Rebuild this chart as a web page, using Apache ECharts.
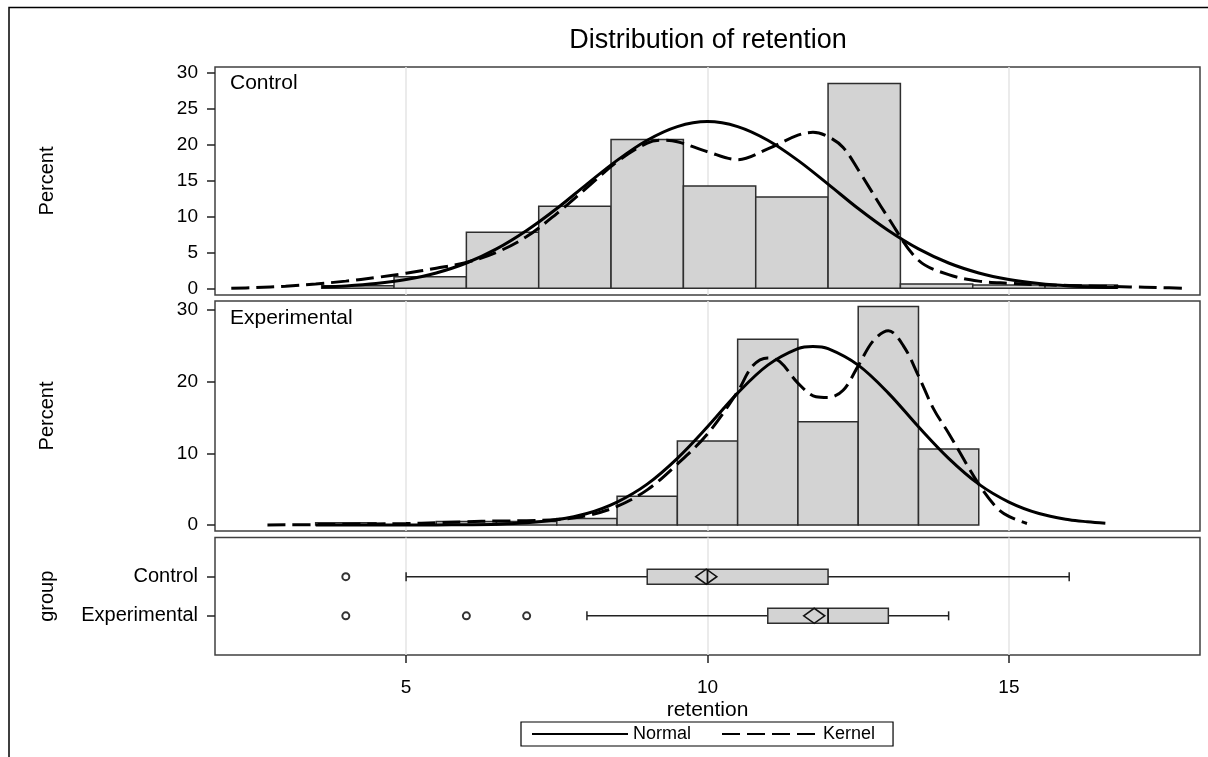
<!DOCTYPE html>
<html>
<head>
<meta charset="utf-8">
<script src="https://cdn.jsdelivr.net/npm/echarts@6/dist/echarts.min.js"></script>
<style>
  html, body { margin: 0; padding: 0; background: #fff; }
  #chart { width: 1208px; height: 757px; }
</style>
</head>
<body>
<div id="chart"></div>
<script>
// ---- data ----
const groups = ['Control', 'Experimental'];
const retentionTicks = [5, 10, 15];
const controlPercentTicks = [0, 5, 10, 15, 20, 25, 30];
const experimentalPercentTicks = [0, 10, 20, 30];

// histogram bins (edges) and percent of observations per bin
const controlBinEdges = [3.6, 4.8, 6.0, 7.2, 8.4, 9.6, 10.8, 12.0, 13.2, 14.4, 15.6, 16.8];
const controlPercent = [0.35, 1.6, 7.8, 11.4, 20.7, 14.25, 12.7, 28.5, 0.6, 0.45, 0.45];
const experimentalBinEdges = [3.5, 4.5, 5.5, 6.5, 7.5, 8.5, 9.5, 10.5, 11.5, 12.5, 13.5, 14.5];
const experimentalPercent = [0.3, 0, 0.5, 0.5, 0.9, 4.0, 11.7, 25.9, 14.4, 30.5, 10.6];

// fitted density curves, [retention, percent]
const controlNormal = [
  [3.6, 0.19], [4, 0.33], [4.5, 0.66], [5, 1.22], [5.5, 2.14], [6, 3.52], [6.5, 5.48],
  [7, 8.04], [7.5, 11.1], [8, 14.5], [8.5, 17.8], [9, 20.6], [9.5, 22.5], [10, 23.2],
  [10.5, 22.5], [11, 20.6], [11.5, 17.8], [12, 14.5], [12.5, 11.1], [13, 8.04],
  [13.5, 5.48], [14, 3.52], [14.5, 2.14], [15, 1.22], [15.5, 0.66], [16, 0.33],
  [16.5, 0.16], [16.8, 0.10]
];
const controlKernel = [
  [2.1, 0.0], [2.5, 0.1], [3.0, 0.3], [3.5, 0.6], [4.0, 1.0], [4.5, 1.5], [5.0, 2.1],
  [5.5, 2.8], [6.0, 3.6], [6.5, 5.0], [7.0, 7.2], [7.5, 10.4], [8.0, 14.0], [8.5, 17.6],
  [9.0, 20.2], [9.25, 20.6], [9.5, 20.4], [10.0, 19.0], [10.5, 17.9], [11.0, 19.4],
  [11.5, 21.3], [11.75, 21.7], [12.0, 21.1], [12.25, 19.6], [12.5, 16.5], [13.0, 9.8],
  [13.5, 3.9], [14.0, 1.9], [14.5, 1.0], [15.0, 0.7], [15.5, 0.5], [16.0, 0.4],
  [16.5, 0.3], [17.0, 0.2], [17.5, 0.1], [17.9, 0.0]
];
const experimentalNormal = [
  [3.5, 0.0], [4.5, 0.0], [5.5, 0.01], [6, 0.04], [6.5, 0.11], [7, 0.30], [7.5, 0.73],
  [8, 1.6], [8.5, 3.2], [9, 5.7], [9.5, 9.3], [10, 13.7], [10.5, 18.4], [11, 22.3],
  [11.5, 24.6], [11.75, 24.9], [12, 24.6], [12.5, 22.3], [13, 18.4], [13.5, 13.7],
  [14, 9.3], [14.5, 5.7], [15, 3.2], [15.5, 1.6], [16, 0.73], [16.3, 0.45], [16.6, 0.25]
];
const experimentalKernel = [
  [2.7, 0.0], [3.5, 0.05], [4.0, 0.1], [4.5, 0.15], [5.0, 0.2], [5.5, 0.3], [6.0, 0.45],
  [6.5, 0.55], [7.0, 0.6], [7.5, 0.75], [8.0, 1.3], [8.5, 2.6], [9.0, 4.9], [9.5, 8.5],
  [10.0, 12.7], [10.5, 18.6], [10.75, 22.2], [11.0, 23.3], [11.2, 22.8], [11.5, 19.8],
  [11.8, 17.9], [12.0, 17.8], [12.25, 18.8], [12.5, 22.2], [12.75, 25.7], [13.0, 27.1],
  [13.25, 25.0], [13.5, 20.8], [13.75, 16.2], [14.0, 12.8], [14.5, 5.7], [14.8, 2.4],
  [15.0, 1.2], [15.3, 0.2]
];

// box plot summary per group (same order as groups)
const boxLow = [5, 8];
const boxQ1 = [9, 11];
const boxMedian = [10, 12];
const boxQ3 = [12, 13];
const boxHigh = [16, 14];
const boxMean = [9.98, 11.77];
const outlierValues = [[4], [4, 6, 7]];

// ---- helpers ----
const FONT = 'Liberation Sans';
const INK = '#000';
const FRAME = '#404040';

function binData(edges, pct) {
  return pct.map((p, i) => [edges[i], edges[i + 1], p]);
}

function renderHistBar(params, api) {
  const p0 = api.coord([api.value(0), 0]);
  const p1 = api.coord([api.value(1), api.value(2)]);
  return {
    type: 'rect',
    shape: { x: p0[0], y: p1[1], width: p1[0] - p0[0], height: p0[1] - p1[1] },
    style: { fill: '#d3d3d3', stroke: '#2e2e2e', lineWidth: 1.5 }
  };
}

function renderBox(params, api) {
  const row = api.value(0);
  const y = api.coord([0, row])[1];
  const x = (v) => api.coord([v, row])[0];
  const lo = x(api.value(1)), q1 = x(api.value(2)), med = x(api.value(3));
  const q3 = x(api.value(4)), hi = x(api.value(5)), mean = x(api.value(6));
  const halfBox = 7.5, cap = 4.5, dW = 10.5, dH = 7.5;
  const thin = { stroke: '#222', lineWidth: 1.5 };
  return {
    type: 'group',
    children: [
      { type: 'line', shape: { x1: lo, y1: y, x2: q1, y2: y }, style: thin },
      { type: 'line', shape: { x1: q3, y1: y, x2: hi, y2: y }, style: thin },
      { type: 'line', shape: { x1: lo, y1: y - cap, x2: lo, y2: y + cap }, style: thin },
      { type: 'line', shape: { x1: hi, y1: y - cap, x2: hi, y2: y + cap }, style: thin },
      { type: 'rect', shape: { x: q1, y: y - halfBox, width: q3 - q1, height: 2 * halfBox },
        style: { fill: '#d3d3d3', stroke: '#2e2e2e', lineWidth: 1.5 } },
      { type: 'line', shape: { x1: med, y1: y - halfBox, x2: med, y2: y + halfBox },
        style: { stroke: '#111', lineWidth: 1.8 } },
      { type: 'polygon',
        shape: { points: [[mean - dW, y], [mean, y - dH], [mean + dW, y], [mean, y + dH]] },
        style: { fill: 'none', stroke: '#111', lineWidth: 1.6 } }
    ]
  };
}

const boxData = groups.map((g, i) =>
  [i + 1, boxLow[i], boxQ1[i], boxMedian[i], boxQ3[i], boxHigh[i], boxMean[i]]);
const outlierData = [];
outlierValues.forEach((vals, i) => vals.forEach(v => outlierData.push([v, i + 1])));

const xRange = { min: 1.83, max: 18.17 };
const gridLine = { show: true, lineStyle: { color: '#e4e4e4', width: 1.5 } };
const tickStyle = { show: true, length: 8, lineStyle: { color: '#222', width: 1.5 } };
const labelText = { color: INK, fontFamily: FONT, fontSize: 19 };

function histX(gridIndex) {
  return {
    type: 'value', gridIndex, min: xRange.min, max: xRange.max,
    axisLine: { show: false, onZero: false },
    axisTick: { show: false, customValues: retentionTicks },
    axisLabel: { show: false, customValues: retentionTicks },
    splitLine: gridLine
  };
}

function percentY(gridIndex, min, max, ticks) {
  return {
    type: 'value', gridIndex, min, max,
    name: 'Percent', nameLocation: 'middle', nameGap: 158,
    nameTextStyle: { color: INK, fontFamily: FONT, fontSize: 20 },
    axisLine: { show: false, onZero: false },
    axisTick: Object.assign({ customValues: ticks }, tickStyle),
    axisLabel: Object.assign({ customValues: ticks, margin: 17 }, labelText),
    splitLine: { show: false }
  };
}

const curveLine = (name, data, xi, dashed) => ({
  name, type: 'line', xAxisIndex: xi, yAxisIndex: xi, data,
  smooth: 0.35, symbol: 'none', z: 5, silent: true,
  lineStyle: dashed
    ? { color: '#000', width: 3, type: [18, 7] }
    : { color: '#000', width: 3 },
  itemStyle: { color: '#000' }
});

const chart = echarts.init(document.getElementById('chart'), null, { renderer: 'canvas' });

chart.setOption({
  animation: false,
  backgroundColor: '#fff',
  title: [
    { text: 'Distribution of retention', left: 708, top: 27, textAlign: 'center', padding: 0,
      textStyle: { color: INK, fontFamily: FONT, fontSize: 27, fontWeight: 'normal' } },
    { text: 'Control', left: 230, top: 73, padding: 0,
      textStyle: { color: INK, fontFamily: FONT, fontSize: 21, fontWeight: 'normal' } },
    { text: 'Experimental', left: 230, top: 308, padding: 0,
      textStyle: { color: INK, fontFamily: FONT, fontSize: 21, fontWeight: 'normal' } }
  ],
  legend: {
    data: ['Normal', 'Kernel'],
    left: 521, top: 722,
    itemWidth: 96, itemHeight: 14, itemGap: 30,
    padding: [3, 18, 3, 10],
    borderColor: '#000', borderWidth: 1.2,
    selectedMode: false,
    itemStyle: { opacity: 0 },
    textStyle: { color: INK, fontFamily: FONT, fontSize: 18 }
  },
  graphic: [
    { type: 'rect', silent: true, z: -1,
      shape: { x: 9, y: 7.5, width: 1220, height: 770 },
      style: { fill: 'none', stroke: '#000', lineWidth: 1.5 } }
  ],
  grid: [
    { left: 215, right: 8, top: 67, height: 228, show: true, borderColor: FRAME, borderWidth: 1.5 },
    { left: 215, right: 8, top: 301, height: 230, show: true, borderColor: FRAME, borderWidth: 1.5 },
    { left: 215, right: 8, top: 537.5, height: 117.5, show: true, borderColor: FRAME, borderWidth: 1.5 }
  ],
  xAxis: [
    histX(0),
    histX(1),
    {
      type: 'value', gridIndex: 2, min: xRange.min, max: xRange.max, position: 'bottom',
      name: 'retention', nameLocation: 'middle', nameGap: 45,
      nameTextStyle: { color: INK, fontFamily: FONT, fontSize: 21 },
      axisLine: { show: false, onZero: false },
      axisTick: Object.assign({ customValues: retentionTicks }, tickStyle),
      axisLabel: Object.assign({ customValues: retentionTicks, margin: 23 }, labelText),
      splitLine: gridLine
    }
  ],
  yAxis: [
    percentY(0, -0.93, 30.79, controlPercentTicks),
    percentY(1, -0.84, 31.25, experimentalPercentTicks),
    {
      type: 'value', gridIndex: 2, min: 0, max: 3, inverse: true,
      name: 'group', nameLocation: 'middle', nameGap: 158,
      nameTextStyle: { color: INK, fontFamily: FONT, fontSize: 20 },
      axisLine: { show: false, onZero: false },
      axisTick: Object.assign({ customValues: [1, 2] }, tickStyle),
      axisLabel: Object.assign({ customValues: [1, 2], margin: 17,
        formatter: (v) => groups[v - 1] || '' }, labelText, { fontSize: 20 }),
      splitLine: { show: false }
    }
  ],
  series: [
    { name: 'Control bins', type: 'custom', xAxisIndex: 0, yAxisIndex: 0,
      data: binData(controlBinEdges, controlPercent), encode: { x: [0, 1], y: 2 },
      renderItem: renderHistBar, z: 2, silent: true },
    curveLine('Normal', controlNormal, 0, false),
    curveLine('Kernel', controlKernel, 0, true),
    { name: 'Experimental bins', type: 'custom', xAxisIndex: 1, yAxisIndex: 1,
      data: binData(experimentalBinEdges, experimentalPercent), encode: { x: [0, 1], y: 2 },
      renderItem: renderHistBar, z: 2, silent: true },
    curveLine('Normal', experimentalNormal, 1, false),
    curveLine('Kernel', experimentalKernel, 1, true),
    { name: 'Box', type: 'custom', xAxisIndex: 2, yAxisIndex: 2,
      data: boxData, encode: { x: [1, 2, 3, 4, 5, 6], y: 0 },
      renderItem: renderBox, z: 3, silent: true },
    { name: 'Outliers', type: 'scatter', xAxisIndex: 2, yAxisIndex: 2,
      data: outlierData, symbol: 'circle', symbolSize: 7, z: 4, silent: true,
      itemStyle: { color: '#fff', borderColor: '#000', borderWidth: 2 } }
  ]
});
</script>
</body>
</html>
